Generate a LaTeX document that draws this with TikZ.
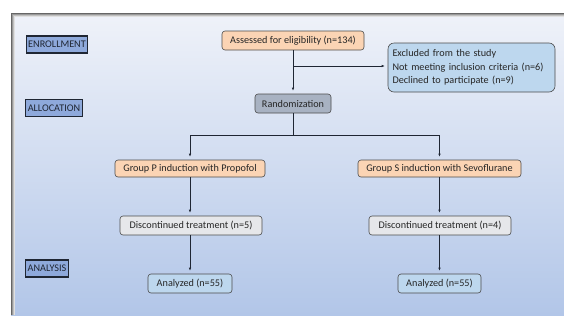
\documentclass[tikz,border=0pt]{standalone}
\usepackage{fontspec}
\setmainfont{Carlito}
\usepackage{tikz}
\usetikzlibrary{positioning,arrows.meta}

\definecolor{panelTop}{HTML}{EFF2F9}
\definecolor{panelBot}{HTML}{B2C6E8}
\definecolor{stageBlue}{HTML}{8EA9DB}
\definecolor{peach}{HTML}{FBD4B4}
\definecolor{randGray}{HTML}{A8B2C2}
\definecolor{discGray}{HTML}{E6E7EA}
\definecolor{lightBlue}{HTML}{BDD7EE}
\definecolor{lineDark}{HTML}{1F2633}

\begin{document}
\begin{tikzpicture}[x=1pt, y=-1pt, >={Latex[length=3pt,width=2.5pt]},
  every node/.style={font=\fontsize{10.2}{13.5}\selectfont, text=black!85},
  stage/.style={draw=lineDark, line width=1.2pt, fill=stageBlue, inner sep=2pt, minimum height=17pt, text=lineDark, font=\fontsize{10.2}{12}\selectfont},
  flowbox/.style={draw=black!70, line width=0.6pt, rounded corners=3pt, inner sep=3pt, minimum height=19pt},
  link/.style={->, line width=0.9pt, draw=lineDark, shorten >=3pt}]
  \useasboundingbox (0,0) rectangle (564,325);
  % panel with shadow
  \shade[top color=panelTop, bottom color=panelBot] (11,13) rectangle (564,315);
  \foreach \i/\o in {0/60,1/40,2/25,3/12} {
    \draw[black!\o, line width=1pt] (11+\i,315) -- (11+\i,13+\i) -- (564,13+\i);
  }

  % stages
  \node[stage] (enroll) at (57,44.5) {ENROLLMENT};
  \node[stage] (alloc) at (54,108) {ALLOCATION};
  \node[stage] (anal) at (47,268.5) {ANALYSIS};

  % flow
  \node[flowbox, fill=peach, minimum width=142pt] (assess) at (293,40.5) {Assessed for eligibility (n=134)};
  \node[flowbox, fill=lightBlue, align=left, rounded corners=6pt, text width=158pt, inner xsep=4.5pt, minimum height=49pt] (excl) at (471.5,67.5)
    {Excluded from the study\\Not meeting inclusion criteria (n=6)\\Declined to participate (n=9)};
  \node[flowbox, fill=randGray, minimum width=76pt] (rand) at (293,103.5) {Randomization};
  \node[flowbox, fill=peach, minimum width=150pt, minimum height=17pt] (grpP) at (190,168.5) {Group P induction with Propofol};
  \node[flowbox, fill=peach, minimum width=163pt, minimum height=17pt] (grpS) at (439.5,168.5) {Group S induction with Sevoflurane};
  \node[flowbox, fill=discGray, minimum width=142pt] (discP) at (191,225.5) {Discontinued treatment (n=5)};
  \node[flowbox, fill=discGray, minimum width=142pt] (discS) at (440,225.5) {Discontinued treatment (n=4)};
  \node[flowbox, fill=lightBlue, minimum width=84pt] (anaP) at (190,283.5) {Analyzed (n=55)};
  \node[flowbox, fill=lightBlue, minimum width=83pt] (anaS) at (439.5,283.5) {Analyzed (n=55)};

  \coordinate (split) at (293,135);
  \draw[link] (assess) -- (rand);
  \draw[link] (293,66) -- (excl.west |- 0,66);
  \draw[line width=0.9pt, draw=lineDark] (rand) -- (split);
  \draw[link] (split) -| (grpP);
  \draw[link] (split) -| (grpS);
  \draw[link] (grpP) -- (grpP |- discP.north);
  \draw[link] (grpS) -- (grpS |- discS.north);
  \draw[link] (discP.south -| anaP) -- (anaP);
  \draw[link] (discS.south -| anaS) -- (anaS);
\end{tikzpicture}
\end{document}
